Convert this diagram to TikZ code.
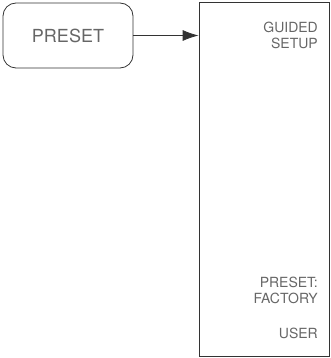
\documentclass[tikz,border=0pt]{standalone}
\usepackage{fontspec}
\setmainfont{TeX Gyre Heros}
\usetikzlibrary{arrows.meta,positioning}

\begin{document}
\begin{tikzpicture}[x=1pt,y=-1pt,
  ink/.style={draw=black!80, line width=0.8pt},
  hardkey/.style={ink, rounded corners=13pt, minimum width=130pt, minimum height=65pt,
    font=\fontsize{18}{20}\selectfont, text=black!60},
  softmenu/.style={ink, minimum width=130pt, minimum height=354pt},
  softlabel/.style={anchor=north east, inner sep=0pt, align=right,
    font=\fontsize{14}{16}\selectfont, text=black!60}]
  \useasboundingbox (0,0) rectangle (330,358); % page size
  % front panel key
  \node[hardkey] (preset) at (68,35.5) {PRESET};
  % softkey menu
  \node[softmenu] (menu) at (264,179.5) {};
  \draw[ink, -{Latex[length=16pt,width=11pt]}] (preset.east) -- (preset.east -| menu.west);
  % softkey labels
  \node[softlabel] (guided) at (318,22) {GUIDED\\SETUP};
  \node[softlabel] (factory) at (318,277) {PRESET:\\FACTORY};
  \node[softlabel] (user) at (318,328) {USER};
\end{tikzpicture}
\end{document}
